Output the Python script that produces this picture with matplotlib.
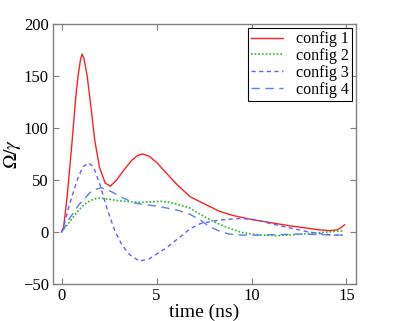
import matplotlib
matplotlib.use('Agg')
import matplotlib.pyplot as plt

plt.rcParams['font.family'] = 'serif'
plt.rcParams['font.serif'] = ['Liberation Serif', 'DejaVu Serif']
plt.rcParams['mathtext.fontset'] = 'stix'

# values (time in ns, Omega/gamma)
t1 = [0, 0.1, 0.3, 0.56, 0.75, 0.87, 1.0, 1.08, 1.18, 1.35, 1.55, 1.75, 2.0, 2.3,
      2.57, 2.9, 3.3, 3.7, 4.0, 4.25, 4.6, 5.0, 5.5, 6.0, 6.76, 7.3, 8.3, 9.0,
      10.0, 11.0, 12.0, 13.0, 13.6, 14.1, 14.5, 14.7, 14.9]
y1 = [0, 3, 35, 88, 130, 150, 166, 171, 167, 150, 120, 88, 62, 47,
      44, 50, 60, 69, 73.5, 75, 73, 67, 57, 47, 34, 29, 20, 16,
      12, 9, 6, 3.5, 2, 1.3, 2, 4, 7]

t2 = [0, 0.15, 0.38, 0.6, 0.9, 1.2, 1.5, 1.78, 2.05, 2.5, 3.0, 3.7, 4.2, 4.7,
      5.2, 5.55, 6.0, 6.4, 6.76, 7.3, 8.0, 8.5, 9.0, 9.4, 10.0, 10.6, 11.3,
      12.0, 13.0, 14.0, 14.8]
y2 = [0, 3.5, 8.6, 14, 21, 26.5, 30, 32, 32.5, 31.5, 30, 29, 28.5, 29,
      29.5, 29, 27, 25, 23, 17, 10, 6, 2.5, 0, -2, -3, -3.5,
      -3, -1.5, 0, 1]

t3 = [0, 0.15, 0.38, 0.65, 0.9, 1.15, 1.43, 1.7, 2.05, 2.4, 2.83, 3.2, 3.6, 4.1,
      4.6, 5.2, 5.54, 5.8, 6.3, 6.76, 7.3, 8.3, 9.4, 10.2, 11.0, 12.0, 13.0,
      13.6, 14.3, 14.8]
y3 = [0, 8, 24, 40, 54, 63, 66.5, 62, 44, 22, 0, -13, -22, -28,
      -26, -19, -15, -11, -4, 3, 8, 11.5, 13, 12, 8, 4, 0,
      -1.5, -3, -3]

t4 = [0, 0.15, 0.38, 0.65, 0.9, 1.26, 1.5, 1.8, 2.1, 2.6, 3.2, 3.8, 4.5, 5.0,
      5.55, 6.2, 6.76, 7.3, 7.8, 8.3, 8.8, 9.5, 10.5, 11.5, 12.5, 13.5, 14.3,
      14.8]
y4 = [0, 4, 12, 19, 26, 33, 38, 41, 42.5, 39, 33, 28, 26, 25,
      23, 20.5, 17, 11.5, 5, 1, -2, -3, -3, -2.5, -2, -2.5, -3,
      -3]

labels = ['config 1', 'config 2', 'config 3', 'config 4']

fig = plt.figure(figsize=(3.94, 3.21), dpi=100)
ax = fig.add_axes([0.1345, 0.1153, 0.769, 0.81])

ax.plot(t1, y1, color='#ff2020', lw=1.0, label=labels[0])
ax.plot(t2, y2, color='#22bb22', lw=1.2, ls=(0, (1, 1.2)), label=labels[1])
ax.plot(t3, y3, color='#6060ff', lw=1.0, ls=(0, (3, 2.5)), label=labels[2])
ax.plot(t4, y4, color='#5a7ff0', lw=1.0, ls=(0, (6, 4)), label=labels[3])

ax.set_xlim(-0.45, 15.5)
ax.set_ylim(-50, 200)
ax.set_xticks([0, 5, 10, 15])
ax.set_yticks([-50, 0, 50, 100, 150, 200])
ax.tick_params(direction='in', top=True, right=True, length=4, color='#808080',
               labelsize=12, pad=3)
for s in ax.spines.values():
    s.set_color('#808080')
    s.set_linewidth(1.0)

ax.set_xlabel('time (ns)', fontsize=14, labelpad=0)
ax.set_ylabel(r'$\Omega/\gamma$', fontsize=14, labelpad=0)

leg = ax.legend(loc='upper right', fontsize=11.5, fancybox=False, framealpha=1,
                edgecolor='black', borderaxespad=0.25, labelspacing=0.05,
                borderpad=0.2, handlelength=2.0, handletextpad=0.8)
leg.get_frame().set_linewidth(0.8)

fig.savefig('out.png', dpi=100)
